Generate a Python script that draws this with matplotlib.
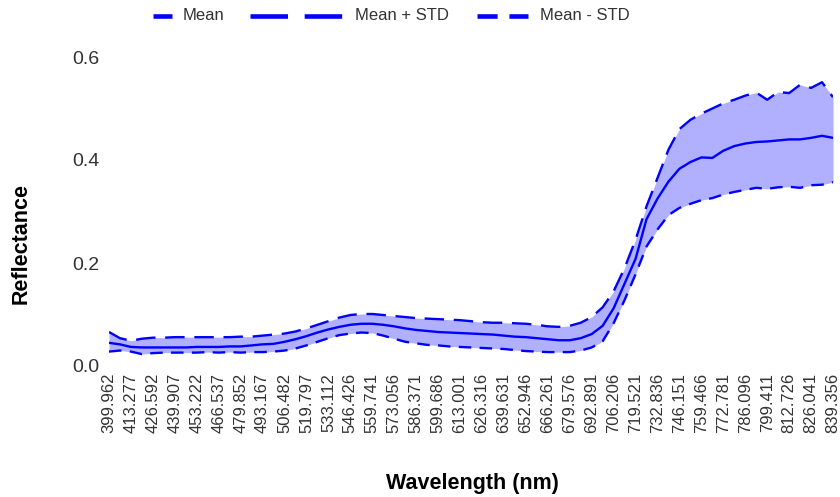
import numpy as np
import matplotlib
matplotlib.use("Agg")
from matplotlib import pyplot as plt
from matplotlib.lines import Line2D

plt.rcParams["font.family"] = ["Liberation Sans", "DejaVu Sans"]
plt.rcParams["lines.scale_dashes"] = False

# tick labels on the wavelength axis (nm)
tick_labels = ["399.962", "413.277", "426.592", "439.907", "453.222", "466.537",
               "479.852", "493.167", "506.482", "519.797", "533.112", "546.426",
               "559.741", "573.056", "586.371", "599.686", "613.001", "626.316",
               "639.631", "652.946", "666.261", "679.576", "692.891", "706.206",
               "719.521", "732.836", "746.151", "759.466", "772.781", "786.096",
               "799.411", "812.726", "826.041", "839.356"]

# sampled wavelengths (nm)
wavelength = [399.962, 406.620, 413.277, 419.935, 426.592, 433.250, 439.907,
              446.565, 453.222, 459.880, 466.537, 473.195, 479.852, 486.510,
              493.167, 499.825, 506.482, 513.140, 519.797, 526.455, 533.112,
              539.769, 546.426, 553.084, 559.741, 566.399, 573.056, 579.714,
              586.371, 593.029, 599.686, 606.344, 613.001, 619.659, 626.316,
              632.974, 639.631, 646.289, 652.946, 659.604, 666.261, 672.919,
              679.576, 686.234, 692.891, 699.549, 706.206, 712.864, 719.521,
              726.179, 732.836, 739.494, 746.151, 752.809, 759.466, 766.124,
              772.781, 779.439, 786.096, 792.754, 799.411, 806.069, 812.726,
              819.384, 826.041, 832.699, 839.356]

mean = [0.045, 0.042, 0.037, 0.036, 0.036, 0.036, 0.036, 0.036, 0.037, 0.037,
        0.037, 0.038, 0.038, 0.040, 0.042, 0.043, 0.047, 0.052, 0.058, 0.065,
        0.071, 0.076, 0.080, 0.082, 0.082, 0.080, 0.077, 0.073, 0.070, 0.068,
        0.066, 0.065, 0.064, 0.063, 0.062, 0.061, 0.059, 0.057, 0.056, 0.054,
        0.052, 0.050, 0.050, 0.054, 0.062, 0.078, 0.112, 0.160, 0.208, 0.285,
        0.325, 0.358, 0.383, 0.396, 0.405, 0.404, 0.418, 0.427, 0.432, 0.435,
        0.436, 0.438, 0.440, 0.440, 0.443, 0.447, 0.443]

mean_plus_std = [0.066, 0.054, 0.049, 0.053, 0.055, 0.055, 0.056, 0.056, 0.056,
                 0.056, 0.056, 0.056, 0.057, 0.057, 0.059, 0.061, 0.063, 0.067,
                 0.073, 0.080, 0.087, 0.094, 0.099, 0.101, 0.101, 0.099, 0.097,
                 0.095, 0.093, 0.092, 0.091, 0.090, 0.089, 0.087, 0.085, 0.084,
                 0.084, 0.083, 0.082, 0.080, 0.077, 0.076, 0.078, 0.084, 0.095,
                 0.114, 0.145, 0.190, 0.245, 0.310, 0.365, 0.420, 0.460, 0.478,
                 0.490, 0.500, 0.510, 0.517, 0.525, 0.531, 0.517, 0.532, 0.530,
                 0.546, 0.540, 0.551, 0.522]

mean_minus_std = [0.028, 0.030, 0.028, 0.023, 0.025, 0.026, 0.026, 0.026, 0.026,
                  0.027, 0.026, 0.027, 0.026, 0.027, 0.027, 0.028, 0.030, 0.034,
                  0.040, 0.047, 0.054, 0.060, 0.063, 0.065, 0.064, 0.059, 0.053,
                  0.047, 0.044, 0.041, 0.040, 0.038, 0.037, 0.036, 0.035, 0.034,
                  0.033, 0.031, 0.029, 0.028, 0.027, 0.027, 0.027, 0.030, 0.036,
                  0.048, 0.083, 0.128, 0.178, 0.232, 0.265, 0.293, 0.307, 0.315,
                  0.322, 0.326, 0.333, 0.338, 0.342, 0.346, 0.344, 0.347, 0.348,
                  0.346, 0.351, 0.352, 0.357]

W, H = 840, 497
fig = plt.figure(figsize=(W / 100, H / 100), dpi=100)
ax = fig.add_axes([109 / W, 131 / H, 724 / W, 309 / H])

blue = "#0000ff"
ax.fill_between(wavelength, mean_minus_std, mean_plus_std,
                color=blue, alpha=0.31, linewidth=0)
ax.plot(wavelength, mean, color=blue, lw=1.7)
ax.plot(wavelength, mean_plus_std, color=blue, lw=1.7, dashes=(14, 7))
ax.plot(wavelength, mean_minus_std, color=blue, lw=1.7, dashes=(9, 6))

ticks = [float(t) for t in tick_labels]
ax.set_xlim(ticks[0], ticks[-1])
ax.set_ylim(0, 0.6)
ax.set_xticks(ticks)
ax.set_xticklabels(tick_labels, rotation=90)
ax.set_yticks([0.0, 0.2, 0.4, 0.6])
ax.set_yticklabels(["0.0", "0.2", "0.4", "0.6"])
ax.tick_params(axis="x", length=0, pad=5, labelsize=12, labelcolor="#333333")
ax.tick_params(axis="y", length=0, pad=7, labelsize=14, labelcolor="#333333")
for s in ax.spines.values():
    s.set_visible(False)

fig.text(472 / W, 1 - 483 / H, "Wavelength (nm)", ha="center", va="center",
         fontsize=15.5, fontweight="bold")
fig.text(21 / W, 1 - 243 / H, "Reflectance", ha="center", va="center",
         rotation=90, fontsize=15.5, fontweight="bold")

# legend row along the top
ly = 1 - 16 / H
entries = [("Mean", 153, 172, None, 183),
           ("Mean + STD", 250, 343, (27, 12), 355),
           ("Mean - STD", 477, 528, (14.5, 8.5), 540)]
for label, x0, x1, dash, tx in entries:
    ln = Line2D([x0 / W, x1 / W], [ly, ly], transform=fig.transFigure,
                color=blue, lw=3.3, solid_capstyle="butt", dash_capstyle="butt")
    if dash is not None:
        ln.set_dashes(dash)
    fig.add_artist(ln)
    fig.text(tx / W, ly, label, ha="left", va="center", fontsize=12,
             color="#333333")

fig.savefig("out.png", dpi=100)
